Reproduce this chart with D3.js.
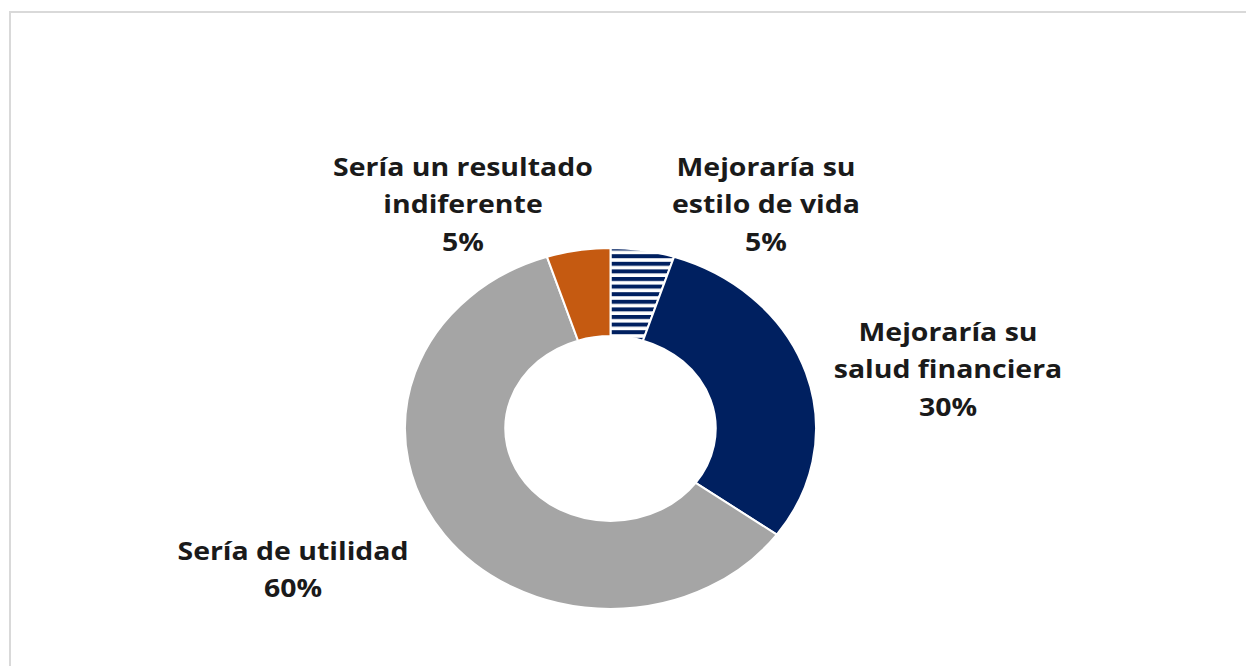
<!DOCTYPE html>
<html lang="es">
<head>
<meta charset="utf-8">
<title>Donut</title>
<script src="https://d3js.org/d3.v7.min.js"></script>
<style>
  body { margin: 0; background: #ffffff; }
  svg { display: block; }
  .lbl { font-family: "Open Sans", sans-serif; font-weight: 700; font-size: 25px; fill: #1a1a1a; }
</style>
</head>
<body>
<svg id="chart" width="1246" height="666"></svg>
<script>
// slice data, clockwise from 12 o'clock
var categories = ["Mejoraría su estilo de vida", "Mejoraría su salud financiera", "Sería de utilidad", "Sería un resultado indiferente"];
var values = [5, 30, 60, 5];
var labelLines = [
  ["Mejoraría su", "estilo de vida"],
  ["Mejoraría su", "salud financiera"],
  ["Sería de utilidad"],
  ["Sería un resultado", "indiferente"]
];
var fills = ["url(#hatch)", "#002060", "#a5a5a5", "#c55a11"];

// layout (screen px)
var W = 1246, H = 666;
var cx = 610.5, cy = 428.5, rx = 205.5, ry = 180.5;
var sx = rx / ry; // the whole picture is stretched sideways
var labelPos = [[766, 167], [948, 332], [293, 551], [463, 167]];
var lineH = 37.5;

var svg = d3.select("#chart");

// outer frame, only top and left show
svg.append("rect")
  .attr("x", 10).attr("y", 12)
  .attr("width", W + 20).attr("height", H + 20)
  .attr("fill", "none").attr("stroke", "#d9d9d9").attr("stroke-width", 2);

var defs = svg.append("defs");
var pat = defs.append("pattern")
  .attr("id", "hatch")
  .attr("patternUnits", "userSpaceOnUse")
  .attr("width", 8).attr("height", 7.6)
  .attr("y", 0.5);
pat.append("rect").attr("width", 8).attr("height", 7.6).attr("fill", "#ffffff");
pat.append("rect").attr("width", 8).attr("height", 4).attr("fill", "#002060");

var pie = d3.pie().sort(null).value(function(d) { return d; });
var arc = d3.arc().innerRadius(ry * 0.512).outerRadius(ry);

var g = svg.append("g")
  .attr("transform", "translate(" + cx + "," + cy + ") scale(" + sx + ",1)");

g.selectAll("path.slice")
  .data(pie(values))
  .join("path")
  .attr("class", "slice")
  .attr("d", arc)
  .attr("fill", function(d, i) { return fills[i]; })
  .attr("stroke", "#ffffff")
  .attr("stroke-width", 2)
  .attr("vector-effect", "non-scaling-stroke");

// data labels
categories.forEach(function(c, i) {
  var lines = labelLines[i].concat([values[i] + "%"]);
  var t = svg.append("text")
    .attr("class", "lbl")
    .attr("text-anchor", "middle")
    .attr("transform", "translate(" + labelPos[i][0] + "," + labelPos[i][1] + ") scale(" + sx + ",1)");
  lines.forEach(function(s, k) {
    t.append("tspan")
      .attr("x", 0)
      .attr("y", k * lineH)
      .attr("dy", "0.35em")
      .text(s);
  });
});
</script>
</body>
</html>
